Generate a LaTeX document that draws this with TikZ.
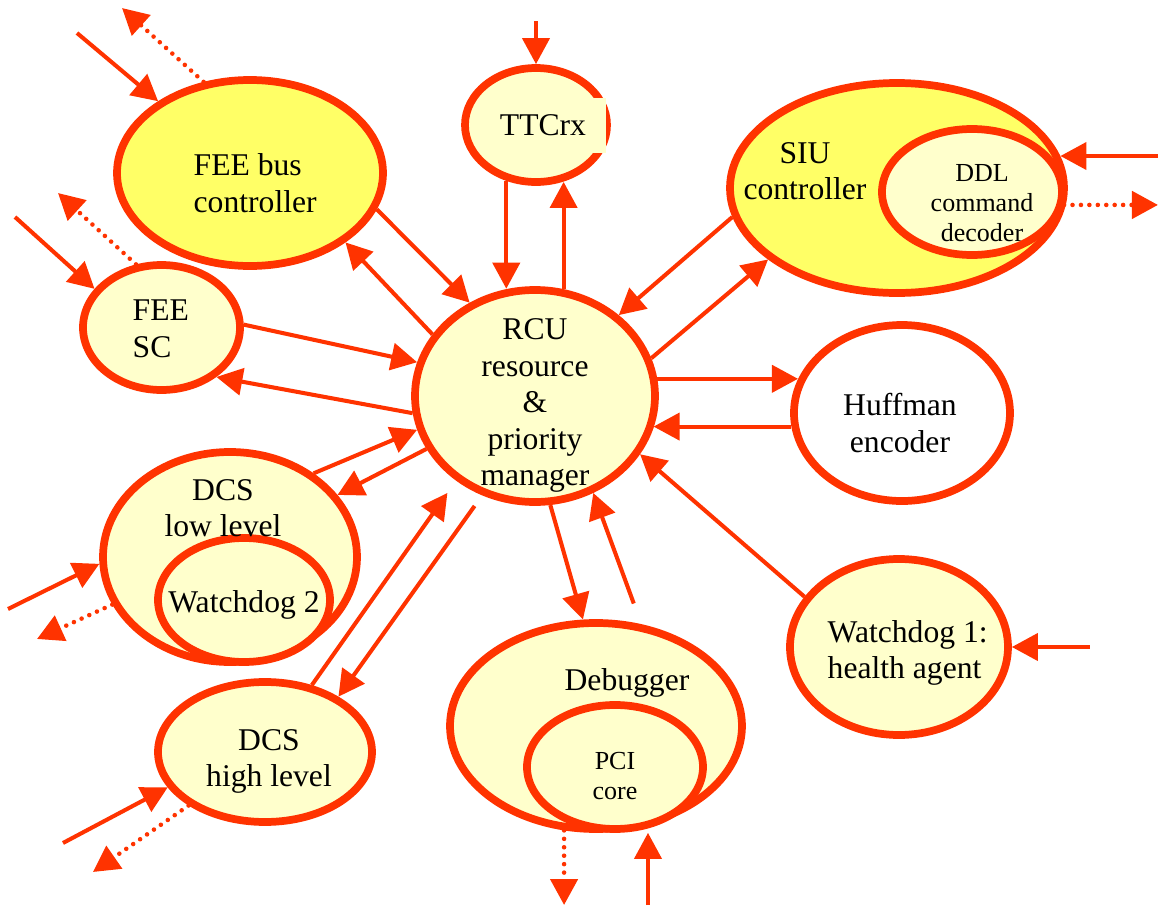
\documentclass[tikz,border=0pt]{standalone}
\usepackage{fontspec}
\setmainfont{Liberation Serif}
\usepackage{tikz}
\usetikzlibrary{shapes.geometric, arrows.meta}
\definecolor{rcured}{HTML}{FF3300}
\definecolor{paleyellow}{HTML}{FFFFCC}
\definecolor{brightyellow}{HTML}{FFFF66}
\tikzset{
  unit/.style = {shape=ellipse, draw=rcured, line width=2.2pt,
                 fill=paleyellow, inner sep=0pt},
  unitbright/.style = {unit, fill=brightyellow},
  unitwhite/.style = {unit, fill=white},
  unittext/.style = {inner sep=0pt, align=center,
                     font=\fontsize{9}{10.4}\selectfont},
  unittextsmall/.style = {unittext, font=\fontsize{7.4}{8.5}\selectfont},
  arrow/.style = {draw=rcured, line width=1.15pt,
                  -{Triangle[length=2.6mm,width=2.7mm]}},
  dotarrow/.style = {arrow, line width=1.3pt, line cap=round,
                     dash pattern=on 0pt off 2.4pt}
}
\begin{document}
\begin{tikzpicture}
            \useasboundingbox (0,0) rectangle (11.59,-9.06);
            % blocks
            \node (feebus) [unitbright, minimum width=2.66cm, minimum height=1.86cm] at (2.50,-1.73) {};
            \node (ttc) [unit, minimum width=1.42cm, minimum height=1.14cm] at (5.36,-1.25) {};
            \node (siu) [unitbright, minimum width=3.34cm, minimum height=2.10cm] at (8.97,-1.88) {};
            \node (ddl) [unit, minimum width=1.80cm, minimum height=1.26cm] at (9.72,-1.92) {};
            \node (feesc) [unit, minimum width=1.57cm, minimum height=1.25cm] at (1.615,-3.275) {};
            \node (rcu) [unit, minimum width=2.40cm, minimum height=2.12cm] at (5.35,-3.96) {};
            \node (huff) [unitwhite, minimum width=2.16cm, minimum height=1.76cm] at (9.02,-4.13) {};
            \node (wd1) [unit, minimum width=2.18cm, minimum height=1.76cm] at (8.99,-6.47) {};
            \node (dcslow) [unit, minimum width=2.54cm, minimum height=2.10cm] at (2.30,-5.57) {};
            \node (wd2) [unit, minimum width=1.72cm, minimum height=1.24cm] at (2.44,-6.00) {};
            \node (dcshigh) [unit, minimum width=2.14cm, minimum height=1.40cm] at (2.65,-7.52) {};
            \node (dbg) [unit, minimum width=2.92cm, minimum height=2.06cm] at (5.96,-7.26) {};
            \node (pci) [unit, minimum width=1.76cm, minimum height=1.24cm] at (6.15,-7.67) {};

            % texts
            \node (feebustxt) [unittext, align=left, anchor=west] at (1.93,-1.83) {FEE bus\\controller};
            \node (ttctxt) [unittext, fill=paleyellow, minimum width=1.26cm, minimum height=0.55cm] at (5.43,-1.255) {TTCrx};
            \node (siutxt) [unittext] at (8.05,-1.71) {SIU\\controller};
            \node (ddltxt) [unittextsmall] at (9.82,-2.03) {DDL\\command\\decoder};
            \node (feesctxt) [unittext, align=left, anchor=west] at (1.32,-3.29) {FEE\\SC};
            \node (rcutxt) [unittext] at (5.35,-4.055) {RCU\\resource\\\&\\priority\\manager};
            \node (hufftxt) [unittext] at (9.00,-4.23) {Huffman\\encoder};
            \node (wd1txt) [unittext, align=left, anchor=west] at (8.27,-6.53) {Watchdog 1:\\health agent};
            \node (dcslowtxt) [unittext] at (2.23,-5.08) {DCS\\low level};
            \node (wd2txt) [unittext] at (2.44,-6.05) {Watchdog 2};
            \node (dcshightxt) [unittext] at (2.69,-7.615) {DCS\\high level};
            \node (dbgtxt) [unittext] at (6.27,-6.83) {Debugger};
            \node (pcitxt) [unittextsmall] at (6.15,-7.76) {PCI\\core};

            % free ends
            \coordinate (fbin) at (0.77,-0.33);
            \coordinate (fbout) at (1.22,-0.08);
            \coordinate (fscin) at (0.15,-2.17);
            \coordinate (fscout) at (0.58,-1.93);
            \coordinate (ttcin) at (5.36,-0.21);
            \coordinate (siuin) at (11.58,-1.56);
            \coordinate (ddlout) at (11.58,-2.05);
            \coordinate (dlin) at (0.08,-6.09);
            \coordinate (dlout) at (0.37,-6.39);
            \coordinate (dhin) at (0.63,-8.43);
            \coordinate (dhout) at (0.93,-8.72);
            \coordinate (wd1in) at (10.90,-6.47);
            \coordinate (pciout) at (5.65,-9.05);
            \coordinate (pciin) at (6.48,-9.05);

            % outside links
            \draw [arrow] (fbin) -- (feebus.142);
            \draw [dotarrow] (feebus.117) -- (fbout);
            \draw [arrow] (fscin) -- (feesc.150);
            \draw [dotarrow] (feesc.112) -- (fscout);
            \draw [arrow] (ttcin) -- (ttc.north);
            \draw [arrow] (siuin) -- (siuin -| siu.11);
            \draw [dotarrow] (ddl.-8) -- (ddl.-8 -| ddlout);
            \draw [arrow] (dlin) -- (dcslow.183);
            \draw [dotarrow] (dcslow.202) -- (dlout);
            \draw [arrow] (dhin) -- (dcshigh.200);
            \draw [dotarrow] (dcshigh.215) -- (dhout);
            \draw [arrow] (wd1in) -- (wd1.east);
            \draw [dotarrow] (dbg.253) -- (dbg.253 |- pciout);
            \draw [arrow] (pciin) -- (pciin |- pci.south);

            % links to the manager
            \draw [arrow] (feebus.-16) -- (rcu.125);
            \draw [arrow] (rcu.149) -- (feebus.-36);
            \draw [arrow] (ttc.242) -- (ttc.242 |- rcu.104);
            \draw [arrow] (rcu.75) -- (rcu.75 |- ttc.295);
            \draw [arrow] (siu.190) -- (rcu.44);
            \draw [arrow] (rcu.18) -- (siu.209);
            \draw [arrow] (feesc.2) -- (rcu.164);
            \draw [arrow] (rcu.188) -- (feesc.318);
            \draw [arrow] (dcslow.45) -- (rcu.196);
            \draw [arrow] (rcu.206) -- (dcslow.30);
            \draw [arrow, shorten >=1.5mm] (dcshigh.55) -- (rcu.227);
            \draw [arrow, shorten <=1.3mm] (rcu.242) -- (dcshigh.37);
            \draw [arrow] (rcu.8) -- (rcu.8 -| huff.162);
            \draw [arrow] (huff.187) -- (huff.187 -| rcu.-15);
            \draw [arrow] (wd1.152) -- (rcu.-29);
            \draw [arrow] (rcu.278) -- (dbg.97);
            \draw [arrow, shorten <=2.2mm] (dbg.66) -- (rcu.-59);
        \end{tikzpicture}
\end{document}
